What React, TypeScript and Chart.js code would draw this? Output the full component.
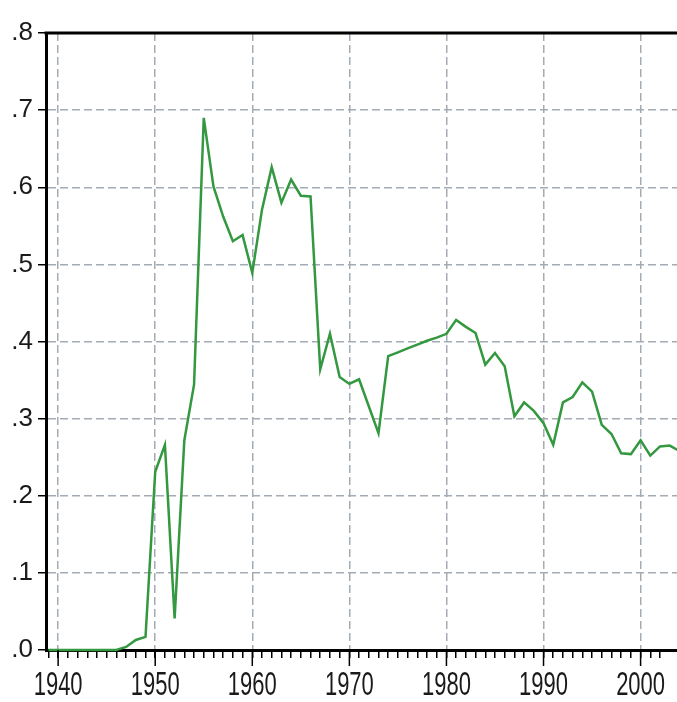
import React, { useEffect, useRef } from 'react';
import { Chart, registerables } from 'chart.js';

Chart.register(...registerables);

const years: number[] = [
  1939, 1940, 1941, 1942, 1943, 1944, 1945, 1946, 1947, 1948, 1949,
  1950, 1951, 1952, 1953, 1954, 1955, 1956, 1957, 1958, 1959,
  1960, 1961, 1962, 1963, 1964, 1965, 1966, 1967, 1968, 1969,
  1970, 1971, 1972, 1973, 1974, 1975, 1976, 1977, 1978, 1979,
  1980, 1981, 1982, 1983, 1984, 1985, 1986, 1987, 1988, 1989,
  1990, 1991, 1992, 1993, 1994, 1995, 1996, 1997, 1998, 1999,
  2000, 2001, 2002, 2003, 2004,
];

const values: number[] = [
  0, 0, 0, 0, 0, 0, 0, 0, 0.004, 0.013, 0.017,
  0.231, 0.266, 0.041, 0.272, 0.344, 0.690, 0.601, 0.562, 0.530, 0.538,
  0.489, 0.571, 0.626, 0.580, 0.610, 0.589, 0.588, 0.364, 0.410, 0.354,
  0.345, 0.351, 0.316, 0.281, 0.381, 0.386, 0.391, 0.396, 0.401, 0.405,
  0.410, 0.428, 0.419, 0.411, 0.370, 0.385, 0.368, 0.303, 0.321, 0.310,
  0.294, 0.266, 0.321, 0.328, 0.347, 0.335, 0.292, 0.280, 0.255, 0.254,
  0.272, 0.252, 0.264, 0.265, 0.258,
];

const yTicks: number[] = [0, 0.1, 0.2, 0.3, 0.4, 0.5, 0.6, 0.7, 0.8];
const xMinorTicks: number[] = Array.from({ length: 64 }, (_, i) => 1939 + i);
const xMajorTicks: number[] = [1940, 1950, 1960, 1970, 1980, 1990, 2000];

const X_MIN = 1938.75;
const X_MAX = 2003.75;

const GRID = '#a3abb4';
const LINE = '#33983f';
const X_LABEL_STRETCH = 1.55;

const frame = {
  id: 'frame',
  afterDraw(chart: any) {
    const { ctx, chartArea, scales } = chart;
    ctx.save();
    ctx.strokeStyle = '#000';
    ctx.lineWidth = 3;
    ctx.beginPath();
    ctx.moveTo(chartArea.left - 1.5, chartArea.top);
    ctx.lineTo(chartArea.right, chartArea.top);
    ctx.stroke();
    ctx.lineWidth = 1.5;
    xMajorTicks.forEach((v) => {
      const px = scales.x.getPixelForValue(v);
      ctx.beginPath();
      ctx.moveTo(px, chartArea.bottom);
      ctx.lineTo(px, chartArea.bottom + 16);
      ctx.stroke();
    });
    ctx.restore();
  },
};

export default function App() {
  const ref = useRef<HTMLCanvasElement | null>(null);
  useEffect(() => {
    if (!ref.current) return;
    const chart = new Chart(ref.current, {
      type: 'line',
      data: {
        datasets: [
          {
            data: years.map((y, i) => ({ x: y, y: values[i] })),
            borderColor: LINE,
            borderWidth: 2.5,
            pointRadius: 0,
            tension: 0,
            fill: false,
            clip: { left: 0, right: 0, top: 0, bottom: 4 },
          },
        ],
      },
      options: {
        animation: false,
        responsive: false,
        maintainAspectRatio: false,
        layout: { padding: { top: 33, right: 0, left: 0, bottom: 0 } },
        plugins: { legend: { display: false }, tooltip: { enabled: false } },
        scales: {
          x: {
            type: 'linear',
            min: X_MIN,
            max: X_MAX,
            afterBuildTicks: (s: any) => {
              s.ticks = xMinorTicks.map((v) => ({ value: v }));
            },
            afterFit: (s: any) => {
              s.height = 52;
              if (!s.__stretched) {
                s.__stretched = true;
                const orig = s.drawLabels.bind(s);
                s.drawLabels = (area: any) => {
                  const c = s.ctx;
                  const y0 = s.top;
                  c.save();
                  c.translate(0, y0);
                  c.scale(1, X_LABEL_STRETCH);
                  c.translate(0, -y0);
                  orig(area);
                  c.restore();
                };
              }
            },
            ticks: {
              autoSkip: false,
              maxRotation: 0,
              minRotation: 0,
              padding: 2,
              color: '#1a1a1a',
              font: { family: '"Liberation Sans", Arial, sans-serif', size: 22 },
              callback: (v: any) => (Number(v) % 10 === 0 ? String(v) : ''),
            },
            grid: {
              color: (c: any) => (c.tick && c.tick.value % 10 === 0 ? GRID : 'rgba(0,0,0,0)'),
              lineWidth: 1.5,
              drawTicks: true,
              tickLength: 8,
              tickColor: '#000',
              tickWidth: 1.5,
            },
            border: { display: true, color: '#000', width: 3, dash: [8, 4] },
          },
          y: {
            type: 'linear',
            min: 0,
            max: 0.8,
            afterBuildTicks: (s: any) => {
              s.ticks = yTicks.map((v) => ({ value: v }));
            },
            afterFit: (s: any) => {
              s.width = 46;
            },
            ticks: {
              padding: 5,
              color: '#1a1a1a',
              font: { family: '"Liberation Sans", Arial, sans-serif', size: 26 },
              callback: (v: any) => '.' + Math.round(Number(v) * 10),
            },
            grid: {
              color: GRID,
              lineWidth: 1.5,
              drawTicks: true,
              tickLength: 8,
              tickColor: '#000',
              tickWidth: 1.5,
            },
            border: { display: true, color: '#000', width: 3, dash: [8, 4] },
          },
        },
      },
      plugins: [frame],
    });
    return () => chart.destroy();
  }, []);
  return (
    <div style={{ position: 'fixed', left: 0, top: 0, width: 677, height: 702, background: '#fff' }}>
      <canvas ref={ref} width={677} height={702} style={{ display: 'block', width: 677, height: 702 }} />
    </div>
  );
}
